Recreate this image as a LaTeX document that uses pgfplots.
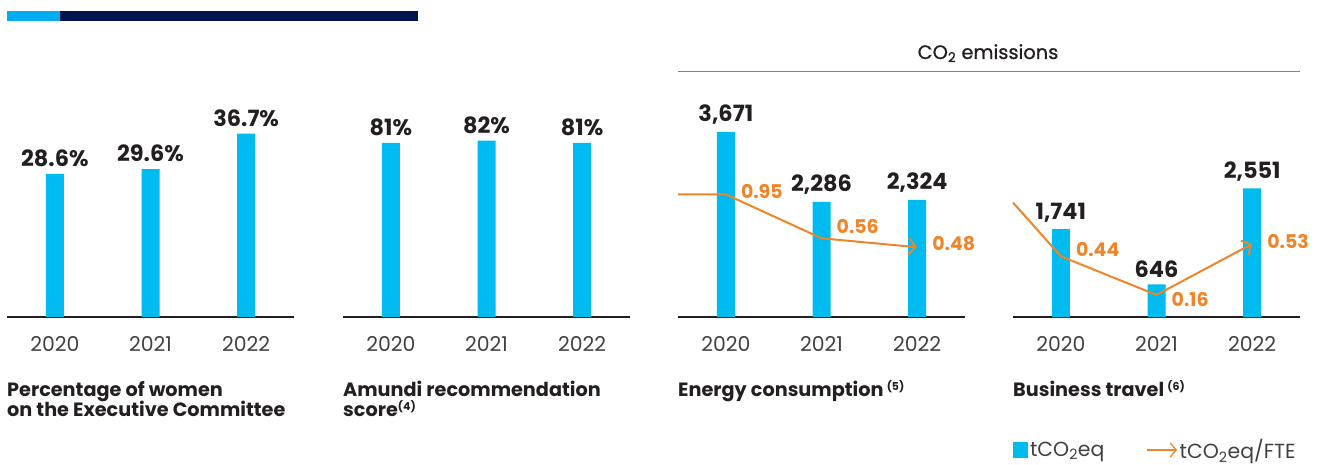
\documentclass[border=0pt]{standalone}
\usepackage{fontspec}
\setmainfont{Poppins}
\usepackage{pgfplots}
\pgfplotsset{compat=1.18}
\usepackage{pgfplotstable}
\usetikzlibrary{arrows.meta}

\definecolor{barcyan}{RGB}{0,187,240}
\definecolor{topcyan}{RGB}{0,174,239}
\definecolor{navy}{RGB}{0,20,80}
\definecolor{lineorange}{RGB}{240,132,40}
\definecolor{darktext}{RGB}{35,31,32}
\definecolor{ticktext}{RGB}{65,64,66}
\definecolor{rulegray}{RGB}{130,130,130}

\newcommand{\note}[1]{\raisebox{6bp}{\fontsize{11}{11}\selectfont(#1)}}

% bar data
\pgfplotstableread{
x y
0 28.6
1 29.6
2 36.7
}\women
\pgfplotstableread{
x y
0 81
1 82
2 81
}\amundi
\pgfplotstableread{
x y
0 3671
1 2286
2 2324
}\energy
\pgfplotstableread{
x y
0 1741
1 646
2 2551
}\travel
% per FTE lines (first row = entry point at the left edge)
\pgfplotstableread{
x y dy
-0.5 0.95 0
0 0.95 3
1 0.56 12
2 0.48 4
}\energyfte
\pgfplotstableread{
x y dy
-0.5 0.83 0
0 0.44 7
1 0.16 -5
2 0.53 2
}\travelfte

\pgfplotsset{
  panel/.style={
    at={#1}, anchor=south west, scale only axis,
    width=287bp, height=200bp,
    xmin=-0.5, xmax=2.5, ymin=0,
    axis x line*=bottom, axis y line=none,
    axis line style={draw=darktext, line width=1.2bp},
    xtick={0,1,2}, xticklabels={2020,2021,2022},
    major tick length=0pt,
    xticklabel style={font=\fontsize{20.5}{20.5}\selectfont, text=ticktext,
      inner sep=0pt, anchor=north, yshift=-19bp},
    ytick=\empty,
    ybar, bar width=18bp,
    clip=false,
    /pgf/number format/assume math mode=true,
    every node near coord/.append style={font=\bfseries\fontsize{22.5}{22.5}\selectfont,
      text=darktext, inner sep=0pt, anchor=south, yshift=7bp},
  },
  bars/.style={fill=barcyan, draw=none},
  linepanel/.style={
    at={#1}, anchor=south west, scale only axis,
    width=287bp, height=200bp,
    xmin=-0.5, xmax=2.5, hide axis, clip=false,
    /pgf/number format/assume math mode=true,
  },
  trend/.style={draw=lineorange, line width=2bp, line join=round, mark=none,
    -{Straight Barb[length=7bp,width=16bp]}},
  trendlabels/.style={draw=none, mark=none,
    skip coords between index={0}{1},
    point meta=y,
    visualization depends on={\thisrow{dy}\as\labeldy},
    nodes near coords={\pgfmathprintnumber[fixed,fixed zerofill,precision=2]{\pgfplotspointmeta}},
    every node near coord/.append style={font=\bfseries\fontsize{19}{19}\selectfont,
      text=lineorange, anchor=west, inner sep=0pt, xshift=15bp, yshift=\labeldy bp}},
}

\begin{document}
\begin{tikzpicture}
\useasboundingbox (0,0) rectangle (1320bp,465bp);

% top decoration
\fill[topcyan] (7bp,444bp) rectangle (60bp,454bp);
\fill[navy] (60bp,444bp) rectangle (418bp,454bp);

% women
\begin{axis}[panel={(7bp,148bp)}, ymax=40,
  nodes near coords={\pgfmathprintnumber[fixed,fixed zerofill,precision=1]{\pgfplotspointmeta}\%}]
\addplot[bars] table[x=x,y=y] {\women};
\end{axis}

% recommendation
\begin{axis}[panel={(343bp,148bp)}, ymax=93,
  nodes near coords={\pgfmathprintnumber[fixed,precision=0]{\pgfplotspointmeta}\%}]
\addplot[bars] table[x=x,y=y] {\amundi};
\end{axis}

% energy
\begin{axis}[panel={(678bp,148bp)}, ymax=3968,
  nodes near coords={\pgfmathprintnumber[fixed,precision=0,1000 sep={,}]{\pgfplotspointmeta}}]
\addplot[bars] table[x=x,y=y] {\energy};
\end{axis}
\begin{axis}[linepanel={(678bp,148bp)}, ymin=-0.1406, ymax=1.639]
\addplot[trend] table[x=x,y=y] {\energyfte};
\addplot[trendlabels] table[x=x,y=y] {\energyfte};
\end{axis}

% travel
\begin{axis}[panel={(1013bp,148bp)}, ymax=3968,
  nodes near coords={\pgfmathprintnumber[fixed,precision=0,1000 sep={,}]{\pgfplotspointmeta}},
  legend style={at={(0,-0.665)}, anchor=west, draw=none, fill=none,
    inner sep=0pt, outer sep=0pt, legend columns=2,
    font=\fontsize{20.5}{20.5}\selectfont, text=ticktext,
    /tikz/every even column/.append style={column sep=40bp}},
  legend cell align=left]
\addplot[bars, legend image code/.code={\fill[barcyan] (0bp,-7.5bp) rectangle (15bp,7.5bp);}]
  table[x=x,y=y] {\travel};
\addlegendentry{tCO\textsubscript{2}eq}
\addlegendimage{legend image code/.code={\draw[lineorange, line width=1.3bp,
  -{Straight Barb[length=6bp,width=14bp]}] (0bp,0bp) -- (30bp,0bp);}}
\addlegendentry{tCO\textsubscript{2}eq/FTE}
\end{axis}
\begin{axis}[linepanel={(1013bp,148bp)}, ymin=0, ymax=1.45]
\addplot[trend] table[x=x,y=y] {\travelfte};
\addplot[trendlabels] table[x=x,y=y] {\travelfte};
\end{axis}

% header over the CO2 panels
\node[anchor=base, inner sep=0pt, font=\fontsize{19.5}{19.5}\selectfont\addfontfeatures{FakeBold=0.8}, text=darktext]
  at (988bp,406bp) {CO\textsubscript{2} emissions};
\draw[rulegray, line width=1bp] (678bp,393bp) -- (1300bp,393bp);

% panel captions
\begin{scope}[every node/.style={anchor=base west, inner sep=0pt,
  font=\bfseries\fontsize{19.3}{19.3}\selectfont, text=darktext}]
\node at (7bp,68bp) {Percentage of women};
\node at (7bp,48bp) {on the Executive Committee};
\node at (343bp,68bp) {Amundi recommendation};
\node at (343bp,48bp) {score\note{4}};
\node at (678bp,68bp) {Energy consumption\,\note{5}};
\node at (1013bp,68bp) {Business travel\,\note{6}};
\end{scope}
\end{tikzpicture}
\end{document}
